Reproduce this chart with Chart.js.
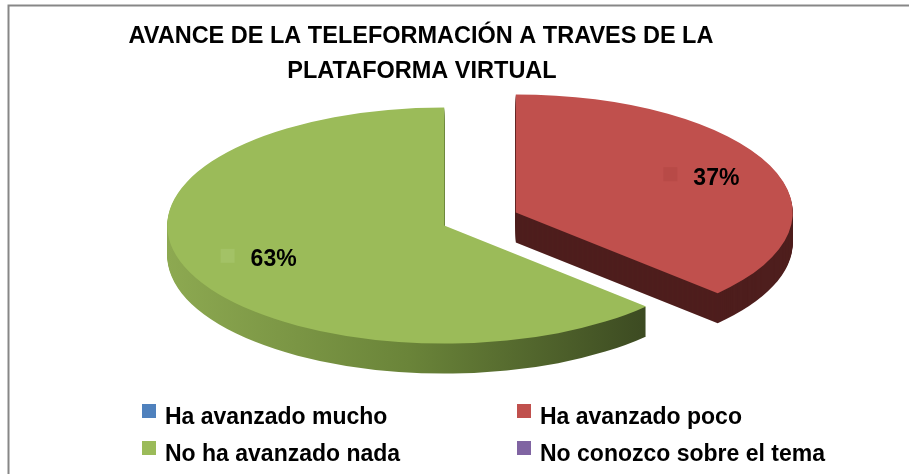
<!DOCTYPE html>
<html><head><meta charset="utf-8">
<script src="https://cdn.jsdelivr.net/npm/chart.js@4.4.1/dist/chart.umd.min.js"></script>
<style>html,body{margin:0;padding:0;background:#fff;overflow:hidden}canvas{display:block}</style>
</head><body>
<canvas id="c" width="909" height="474"></canvas>
<script>
const titleLines = ['AVANCE DE LA TELEFORMACIÓN A TRAVES DE LA', 'PLATAFORMA VIRTUAL'];
const categories = ['Ha avanzado mucho', 'Ha avanzado poco', 'No ha avanzado nada', 'No conozco sobre el tema'];
const values = [0, 37, 63, 0];
const topColors = ['#4F81BD', '#C0504D', '#9BBB59', '#8064A2'];
const sideColors = ['#2C4A70', '#4E1E1D', null, '#48385D'];
const greenSideStops = ['#8DA951', '#6A8439', '#3B4921'];
const labelKeyColors = ['#4F81BD', '#B84A47', '#A3C266', '#8064A2'];

const TILT = 0.426, DEPTH = 30, EXPLODE = 39, RADIUS = 277;
const FONT = '"Liberation Sans", Arial, sans-serif';

function centerY(chart){ return (chart.chartArea.top + chart.chartArea.bottom) / 2; }
function tilt(ctx, cy){ ctx.translate(0, cy); ctx.scale(1, TILT); ctx.translate(0, -cy); }

const pie3d = {
  id: 'pie3d',
  beforeDraw(chart){
    const ctx = chart.ctx;
    ctx.save();
    ctx.strokeStyle = '#878787';
    ctx.lineWidth = 2;
    ctx.beginPath();
    ctx.moveTo(8.5, 474); ctx.lineTo(8.5, 5.5); ctx.lineTo(909, 5.5);
    ctx.stroke();
    ctx.restore();
  },
  afterDatasetsUpdate(chart){
    const meta = chart.getDatasetMeta(0);
    meta.data.forEach(arc => {
      const mid = (arc.startAngle + arc.endAngle) / 2;
      arc.x += Math.cos(mid) * EXPLODE;
      arc.y += Math.sin(mid) * EXPLODE;
    });
  },
  beforeDatasetsDraw(chart){
    const ctx = chart.ctx, meta = chart.getDatasetMeta(0), cy = centerY(chart);
    const g = meta.data[2];
    const grad = ctx.createLinearGradient(g.x - g.outerRadius, 0, g.x + g.outerRadius * 0.75, 0);
    greenSideStops.forEach((c, i) => grad.addColorStop(i / (greenSideStops.length - 1), c));
    for (let d = DEPTH; d >= 1; d--) {
      ctx.save();
      ctx.translate(0, d);
      tilt(ctx, cy);
      meta.data.forEach((arc, i) => {
        if (!values[i]) return;
        ctx.fillStyle = sideColors[i] || grad;
        ctx.beginPath();
        ctx.moveTo(arc.x, arc.y);
        ctx.arc(arc.x, arc.y, arc.outerRadius, arc.startAngle, arc.endAngle);
        ctx.closePath();
        ctx.fill();
      });
      ctx.restore();
    }
    ctx.save();
    tilt(ctx, cy);
  },
  afterDatasetsDraw(chart){
    const ctx = chart.ctx, meta = chart.getDatasetMeta(0), cy = centerY(chart);
    ctx.restore();
    const total = values.reduce((a, b) => a + b, 0);
    ctx.save();
    ctx.font = 'bold 23px ' + FONT;
    ctx.textBaseline = 'middle';
    meta.data.forEach((arc, i) => {
      if (!values[i]) return;
      const mid = (arc.startAngle + arc.endAngle) / 2;
      const r = arc.outerRadius * 0.73;
      const lx = arc.x + Math.cos(mid) * r;
      const ly = cy + (arc.y + Math.sin(mid) * r - cy) * TILT;
      const txt = Math.round(values[i] / total * 100) + '%';
      const tw = ctx.measureText(txt).width;
      const gw = 14 + 16 + tw;
      const x0 = lx - gw / 2;
      ctx.fillStyle = labelKeyColors[i];
      ctx.fillRect(x0, ly - 11, 14, 14);
      ctx.fillStyle = '#000';
      ctx.textAlign = 'left';
      ctx.fillText(txt, x0 + 30, ly);
    });
    ctx.restore();
  },
  afterDraw(chart){
    const ctx = chart.ctx;
    ctx.save();
    ctx.fillStyle = '#000';
    ctx.textAlign = 'center';
    ctx.textBaseline = 'alphabetic';
    ctx.font = 'bold 23.5px ' + FONT;
    ctx.fillText(titleLines[0], 421, 43);
    ctx.fillText(titleLines[1], 422, 78);
    ctx.font = 'bold 23px ' + FONT;
    ctx.textAlign = 'left';
    const colX = [142, 517], rowY = [404, 441];
    categories.forEach((c, i) => {
      const x = colX[i % 2], y = rowY[Math.floor(i / 2)];
      ctx.fillStyle = topColors[i];
      ctx.fillRect(x, y, 14, 14);
      ctx.fillStyle = '#000';
      ctx.fillText(c, x + 23, y + 20);
    });
    ctx.restore();
  }
};

new Chart(document.getElementById('c'), {
  type: 'pie',
  data: {
    labels: categories,
    datasets: [{
      data: values,
      backgroundColor: topColors,
      borderWidth: 0,
      radius: RADIUS,
      clip: false
    }]
  },
  options: {
    responsive: false,
    devicePixelRatio: 1,
    animation: false,
    events: [],
    layout: { padding: { left: 60, right: 9, top: 100, bottom: 136 } },
    plugins: { legend: { display: false }, title: { display: false }, tooltip: { enabled: false } }
  },
  plugins: [pie3d]
});
</script>
</body></html>
